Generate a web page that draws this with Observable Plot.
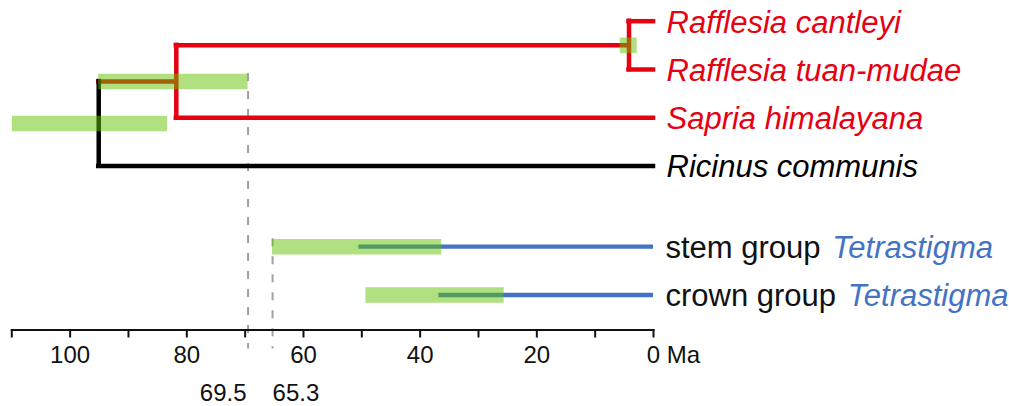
<!DOCTYPE html>
<html><head><meta charset="utf-8">
<script src="https://cdn.jsdelivr.net/npm/d3@7"></script>
<script src="https://cdn.jsdelivr.net/npm/@observablehq/plot@0.6"></script>
<style>body{margin:0;background:#fff;} svg{display:block;}</style>
</head><body><div id="chart"></div>
<script>
const FONT = "'Liberation Sans', Arial, Helvetica, sans-serif";

// ---- data ----
const tipNames  = ["Rafflesia cantleyi", "Rafflesia tuan-mudae", "Sapria himalayana", "Ricinus communis"];
const tipRows   = [0, 1, 2, 3];
const tipGroups = ["Rafflesiaceae", "Rafflesiaceae", "Rafflesiaceae", "outgroup"];

// internal node ages (Ma)
const rafflesiaCrownAge     = 4.2;
const rafflesiaceaeCrownAge = 81.8;
const rootAge               = 95.1;

// confidence intervals (Ma) drawn as bars
const ciOld   = [5.7, 95.1, 109.9, 65.3, 49.3];
const ciYoung = [2.8, 69.5, 83.3, 36.3, 25.6];
const ciRows  = [0.5, 1.25, 2.12, 4.67, 5.67];

// Tetrastigma lineages
const tetraLabels = ["stem group", "crown group"];
const tetraRows   = [4.67, 5.67];
const tetraStart  = [50.5, 36.8];
const tetraName   = "Tetrastigma";

// reference ages (dashed)
const markerAges = [69.5, 65.3];
const markerRows = [1.25, 4.67];

// axis
const tickValues = [0, 10, 20, 30, 40, 50, 60, 70, 80, 90, 100, 110];
const tickLabels = [100, 80, 60, 40, 20];

const groupNames  = ["Rafflesiaceae", "outgroup", "Tetrastigma"];
const groupColors = ["#e60012", "#000000", "#4472c4"];

// ---- tree geometry from the values ----
const stemRow = (0.5 + 2) / 2; // Rafflesiaceae node row
const hBranches = [
  {row: 0, from: rafflesiaCrownAge, to: 0, g: "Rafflesiaceae"},
  {row: 1, from: rafflesiaCrownAge, to: 0, g: "Rafflesiaceae"},
  {row: 0.5, from: rafflesiaceaeCrownAge, to: rafflesiaCrownAge, g: "Rafflesiaceae"},
  {row: 2, from: rafflesiaceaeCrownAge, to: 0, g: "Rafflesiaceae"},
  {row: stemRow, from: rootAge, to: rafflesiaceaeCrownAge, g: "Rafflesiaceae"},
  {row: 3, from: rootAge, to: 0, g: "outgroup"}
];
const vBranches = [
  {age: rafflesiaCrownAge, r1: 0, r2: 1, g: "Rafflesiaceae"},
  {age: rafflesiaceaeCrownAge, r1: 0.5, r2: 2, g: "Rafflesiaceae"},
  {age: rootAge, r1: stemRow, r2: 3, g: "outgroup"}
];
const tips = tipNames.map((n, i) => ({name: n, row: tipRows[i], g: tipGroups[i]}));
const cis = ciOld.map((o, i) => ({old: o, young: ciYoung[i], row: ciRows[i]}));
const tetra = tetraLabels.map((l, i) => ({label: l, row: tetraRows[i], start: tetraStart[i], g: "Tetrastigma"}));
const markers = markerAges.map((a, i) => ({age: a, row: markerRows[i]}));

const FS = 31;
const ctx = document.createElement("canvas").getContext("2d");
ctx.font = `${FS}px ${FONT}`;
const wOf = s => ctx.measureText(s).width;

const GREEN = "#61c100";
const chart = Plot.plot({
  width: 1009, height: 406,
  marginLeft: 11.3, marginRight: 356, marginTop: 20.7, marginBottom: 76.5,
  style: {fontFamily: FONT, background: "#fff", overflow: "visible", color: "#111"},
  x: {domain: [110, 0]},
  y: {domain: [0, 5.67], range: [20.7, 294.5], axis: null},
  color: {domain: groupNames, range: groupColors},
  marks: [
    // dashed reference lines
    Plot.ruleX(markers, {x: "age", y1: "row", y2: 5.67, insetTop: -8, insetBottom: -54,
      stroke: "#a0a0a0", strokeWidth: 2, strokeDasharray: "8,10"}),
    // axis
    Plot.frame({anchor: "bottom", stroke: "#111", strokeWidth: 2.2}),
    Plot.axisX({ticks: tickValues, tickSize: 8, tickFormat: () => "", stroke: "#111", strokeWidth: 2}),
    Plot.text(tickLabels, {x: d => d, frameAnchor: "bottom", lineAnchor: "middle", dy: 25.1, fontSize: 24, fill: "#111"}),
    Plot.text(["0 Ma"], {x: 0, frameAnchor: "bottom", lineAnchor: "middle", dy: 25.1, dx: -6.7, textAnchor: "start", fontSize: 24, fill: "#111"}),
    Plot.text(markers.slice(0, 1), {x: "age", text: d => String(d.age), frameAnchor: "bottom", lineAnchor: "middle",
      dy: 63.3, dx: -1.5, textAnchor: "end", fontSize: 24, fill: "#111"}),
    Plot.text(markers.slice(1), {x: "age", text: d => String(d.age), frameAnchor: "bottom", lineAnchor: "middle",
      dy: 63.3, dx: 0, textAnchor: "start", fontSize: 24, fill: "#111"}),
    // tree
    Plot.ruleY(hBranches, {y: "row", x1: "from", x2: "to", stroke: "g", strokeWidth: 4.5, strokeLinecap: "square"}),
    Plot.ruleX(vBranches, {x: "age", y1: "r1", y2: "r2", stroke: "g", strokeWidth: 4.5, strokeLinecap: "square"}),
    // Tetrastigma lineages
    Plot.ruleY(tetra, {y: "row", x1: "start", x2: 0, stroke: "g", strokeWidth: 4.3}),
    // confidence bars
    Plot.ruleY(cis, {y: "row", x1: "old", x2: "young", stroke: GREEN, strokeOpacity: 0.5, strokeWidth: 15.6}),
    // labels
    Plot.text(tips, {x: 0, y: "row", text: "name", dx: 13, dy: 1.5, textAnchor: "start", fontStyle: "italic",
      fontSize: FS, fill: "g"}),
    Plot.text(tetra, {x: 0, y: "row", text: "label", dx: 12, dy: 1, textAnchor: "start", fontSize: FS, fill: "#111"}),
    ...tetra.map(d => Plot.text([d], {x: 0, y: "row", text: () => tetraName, dx: 12 + wOf(d.label + " ") + 3, dy: 1,
      textAnchor: "start", fontStyle: "italic", fontSize: FS, fill: "g"}))
  ]
});
document.getElementById("chart").appendChild(chart);
</script>
</body></html>
